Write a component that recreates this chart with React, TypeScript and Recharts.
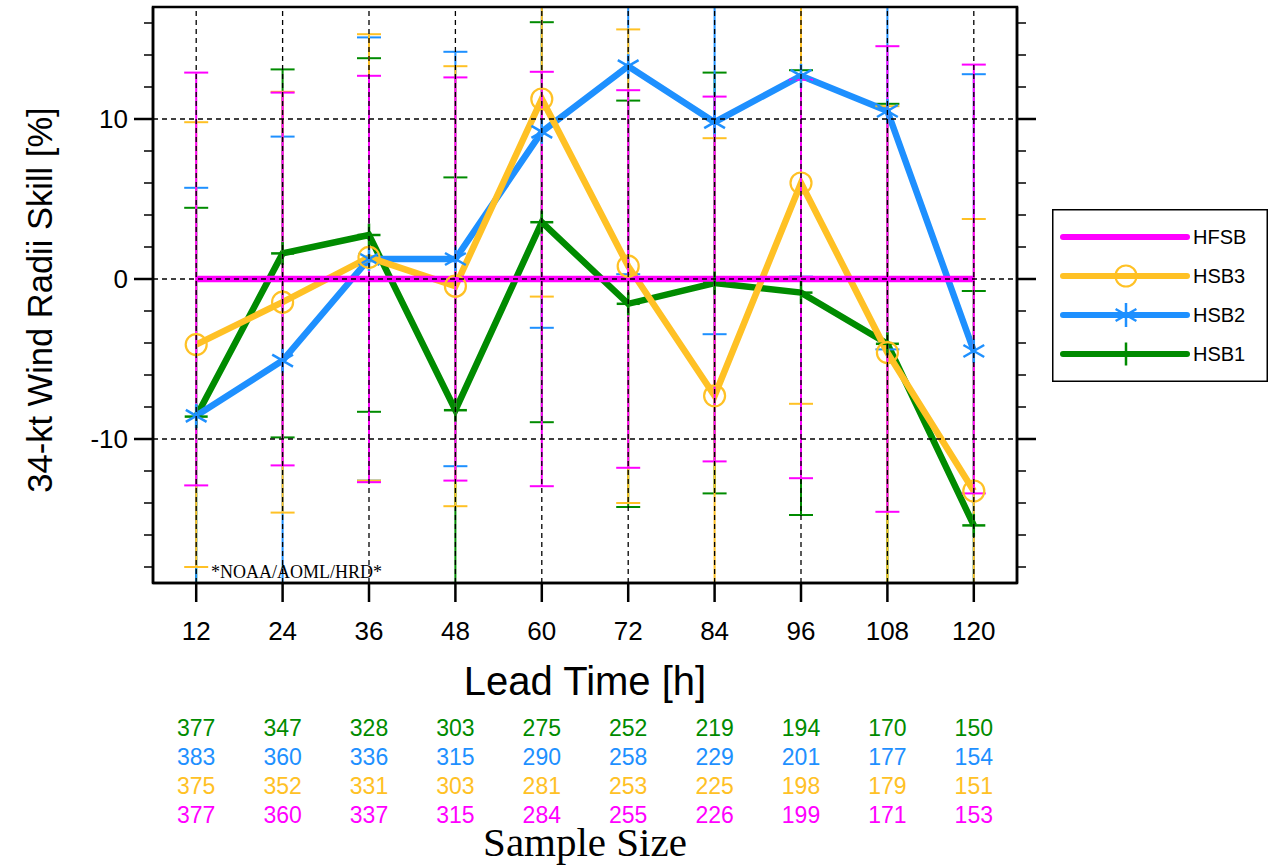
import React from 'react';
import { LineChart, Line, XAxis, YAxis, ErrorBar, ReferenceLine, Legend } from 'recharts';

// ---------- data ----------
const leadTimes = [12, 24, 36, 48, 60, 72, 84, 96, 108, 120];

const hfsbSkill = [0, 0, 0, 0, 0, 0, 0, 0, 0, 0];
const hfsbErr = [12.9, 11.65, 12.7, 12.6, 12.95, 11.8, 11.4, 12.45, 14.55, 13.4];

const hsb3Skill = [-4.1, -1.45, 1.35, -0.45, 11.25, 0.8, -7.3, 6.0, -4.6, -13.25];
const hsb3Err = [13.9, 13.15, 13.95, 13.75, 12.35, 14.8, 16.1, 13.8, 15.4, 17.0];

const hsb2Skill = [-8.55, -5.1, 1.25, 1.25, 9.2, 13.3, 9.8, 12.7, 10.5, -4.5];
const hsb2Err = [14.25, 14.0, 13.85, 12.95, 12.25, 13.0, 13.25, 12.55, 14.9, 17.3];

const hsb1Skill = [-8.6, 1.6, 2.75, -8.2, 3.55, -1.55, -0.25, -0.85, -4.05, -15.4];
const hsb1Err = [13.05, 11.5, 11.05, 14.55, 12.5, 12.7, 13.15, 13.9, 15.0, 14.65];

const hsb1Count = [377, 347, 328, 303, 275, 252, 219, 194, 170, 150];
const hsb2Count = [383, 360, 336, 315, 290, 258, 229, 201, 177, 154];
const hsb3Count = [375, 352, 331, 303, 281, 253, 225, 198, 179, 151];
const hfsbCount = [377, 360, 337, 315, 284, 255, 226, 199, 171, 153];

const yTicks = [-18, -16, -14, -12, -10, -8, -6, -4, -2, 0, 2, 4, 6, 8, 10, 12, 14, 16];
const yGridLines = [-10, 0, 10];
const xDomain = [6, 126];
const yDomain = [-19, 17];

// ---------- layout / style ----------
const W = 1279;
const H = 865;
const PLOT = { left: 153, top: 7, right: 1017, bottom: 583 };

const GREEN = '#008B00';
const BLUE = '#1E90FF';
const ORANGE = '#FFC125';
const MAGENTA = '#FF00FF';
const SANS = '"Liberation Sans", Arial, Helvetica, sans-serif';
const SERIF = '"Liberation Serif", "Times New Roman", serif';

const data = leadTimes.map((t, i) => ({
  lead: t,
  HSB1: hsb1Skill[i],
  HSB1_err: hsb1Err[i],
  HSB2: hsb2Skill[i],
  HSB2_err: hsb2Err[i],
  HSB3: hsb3Skill[i],
  HSB3_err: hsb3Err[i],
  HFSB: hfsbSkill[i],
  HFSB_err: hfsbErr[i],
}));

const sampleRows = [
  { counts: hsb1Count, color: GREEN },
  { counts: hsb2Count, color: BLUE },
  { counts: hsb3Count, color: ORANGE },
  { counts: hfsbCount, color: MAGENTA },
];

type MarkerKind = 'dot' | 'circle' | 'asterisk' | 'plus';

const legendItems: { name: string; color: string; marker: MarkerKind }[] = [
  { name: 'HFSB', color: MAGENTA, marker: 'dot' },
  { name: 'HSB3', color: ORANGE, marker: 'circle' },
  { name: 'HSB2', color: BLUE, marker: 'asterisk' },
  { name: 'HSB1', color: GREEN, marker: 'plus' },
];

function Marker({ kind, cx, cy, color }: { kind: MarkerKind; cx: number; cy: number; color: string }) {
  if (cx == null || cy == null || isNaN(cx) || isNaN(cy)) return <g />;
  if (kind === 'circle') {
    return <circle cx={cx} cy={cy} r={10.5} fill="none" stroke={color} strokeWidth={2.2} />;
  }
  if (kind === 'asterisk') {
    const r = 12;
    const dx = r * Math.cos(Math.PI / 6);
    const dy = r * Math.sin(Math.PI / 6);
    return (
      <g stroke={color} strokeWidth={2.5}>
        <line x1={cx} y1={cy - r} x2={cx} y2={cy + r} />
        <line x1={cx - dx} y1={cy - dy} x2={cx + dx} y2={cy + dy} />
        <line x1={cx - dx} y1={cy + dy} x2={cx + dx} y2={cy - dy} />
      </g>
    );
  }
  if (kind === 'plus') {
    const r = 11.5;
    return (
      <g stroke={color} strokeWidth={2.5}>
        <line x1={cx} y1={cy - r} x2={cx} y2={cy + r} />
        <line x1={cx - r} y1={cy} x2={cx + r} y2={cy} />
      </g>
    );
  }
  return <circle cx={cx} cy={cy} r={2} fill={color} />;
}

const makeDot = (kind: MarkerKind, color: string) => (p: any) => (
  <Marker key={`dot-${kind}-${p.index}`} kind={kind} cx={p.cx} cy={p.cy} color={color} />
);

// ---------- axes ----------
const XTick = (props: any) => {
  const { x, y, payload } = props;
  const i = leadTimes.indexOf(payload.value);
  return (
    <g>
      <line x1={x} x2={x} y1={y} y2={y + 19} stroke="#000" strokeWidth={2.5} />
      <text x={x} y={y + 57} textAnchor="middle" fontSize={26} fontFamily={SANS} fill="#000">
        {payload.value}
      </text>
      {sampleRows.map((r, k) => (
        <text
          key={k}
          x={x}
          y={y + 153 + 29 * k}
          textAnchor="middle"
          fontSize={23}
          fontFamily={SANS}
          fill={r.color}
        >
          {i >= 0 ? r.counts[i] : ''}
        </text>
      ))}
    </g>
  );
};

const YTickLeft = (props: any) => {
  const { x, y, payload } = props;
  const major = payload.value % 10 === 0;
  return (
    <g>
      <line x1={x - (major ? 19 : 9)} x2={x} y1={y} y2={y} stroke="#000" strokeWidth={major ? 2.5 : 1.5} />
      {major && (
        <text x={x - 25} y={y} dy="0.36em" textAnchor="end" fontSize={26} fontFamily={SANS} fill="#000">
          {payload.value}
        </text>
      )}
    </g>
  );
};

const YTickRight = (props: any) => {
  const { x, y, payload } = props;
  const major = payload.value % 10 === 0;
  return (
    <g>
      <line x1={x} x2={x + (major ? 19 : 9)} y1={y} y2={y} stroke="#000" strokeWidth={major ? 2.5 : 1.5} />
    </g>
  );
};

const XLabel = (props: any) => {
  const vb = props.viewBox || { x: 153, y: 583, width: 864, height: 60 };
  const cx = vb.x + vb.width / 2;
  const top = vb.y;
  return (
    <g>
      <text x={cx} y={top + 112} textAnchor="middle" fontSize={40} fontFamily={SANS} fill="#000">
        Lead Time [h]
      </text>
      <text x={cx} y={top + 273} textAnchor="middle" fontSize={41} fontFamily={SERIF} fill="#000">
        Sample Size
      </text>
    </g>
  );
};

const YLabel = (props: any) => {
  const vb = props.viewBox || { x: 53, y: 7, width: 100, height: 576 };
  const cx = vb.x - 13;
  const cy = vb.y + vb.height / 2 + 5;
  return (
    <text
      x={cx}
      y={cy}
      transform={`rotate(-90, ${cx}, ${cy})`}
      textAnchor="middle"
      dominantBaseline="central"
      fontSize={34.5}
      fontFamily={SANS}
      fill="#000"
    >
      34-kt Wind Radii Skill [%]
    </text>
  );
};

const LegendBox = () => (
  <svg width={216} height={173} style={{ display: 'block' }}>
    <rect x={0.75} y={0.75} width={214.5} height={171.5} fill="#fff" stroke="#000" strokeWidth={1.5} />
    {legendItems.map((it, k) => {
      const y = 28 + 39 * k;
      return (
        <g key={it.name}>
          <line x1={11} x2={135} y1={y} y2={y} stroke={it.color} strokeWidth={6} strokeLinecap="round" />
          <Marker kind={it.marker} cx={74} cy={y} color={it.color} />
          <text x={141} y={y} dy="0.36em" fontSize={20} fontFamily={SANS} fill="#000">
            {it.name}
          </text>
        </g>
      );
    })}
  </svg>
);

const plotMargin = { top: PLOT.top, left: PLOT.left, right: W - PLOT.right, bottom: H - PLOT.bottom };

export default function App() {
  return (
    <div style={{ position: 'absolute', left: 0, top: 0, width: W, height: H, background: '#fff' }}>
      {/* series layer, clipped to the plot frame */}
      <div
        style={{
          position: 'absolute',
          left: 0,
          top: 0,
          width: W,
          height: H,
          clipPath: `inset(${PLOT.top}px ${W - PLOT.right}px ${H - PLOT.bottom}px ${PLOT.left}px)`,
        }}
      >
        <LineChart width={W} height={H} data={data} margin={plotMargin}>
          <XAxis hide dataKey="lead" type="number" domain={xDomain} allowDataOverflow />
          <YAxis hide type="number" domain={yDomain} allowDataOverflow />

          <Line dataKey="HSB1" stroke={GREEN} strokeWidth={6.5} isAnimationActive={false} dot={makeDot('plus', GREEN)} activeDot={false}>
            <ErrorBar dataKey="HSB1_err" stroke={GREEN} strokeWidth={2} width={12} direction="y" isAnimationActive={false} />
          </Line>
          <Line dataKey="HSB2" stroke={BLUE} strokeWidth={6.5} isAnimationActive={false} dot={makeDot('asterisk', BLUE)} activeDot={false}>
            <ErrorBar dataKey="HSB2_err" stroke={BLUE} strokeWidth={2} width={12} direction="y" isAnimationActive={false} />
          </Line>
          <Line dataKey="HSB3" stroke={ORANGE} strokeWidth={6.5} isAnimationActive={false} dot={makeDot('circle', ORANGE)} activeDot={false}>
            <ErrorBar dataKey="HSB3_err" stroke={ORANGE} strokeWidth={2} width={12} direction="y" isAnimationActive={false} />
          </Line>
          <Line dataKey="HFSB" stroke={MAGENTA} strokeWidth={6.5} isAnimationActive={false} dot={false} activeDot={false}>
            <ErrorBar dataKey="HFSB_err" stroke={MAGENTA} strokeWidth={2} width={12} direction="y" isAnimationActive={false} />
          </Line>

          {leadTimes.map((t) => (
            <ReferenceLine key={`vx-${t}`} x={t} stroke="#000" strokeWidth={1.3} strokeDasharray="5 4" zIndex={1000} />
          ))}
          {yGridLines.map((v) => (
            <ReferenceLine key={`hy-${v}`} y={v} stroke="#000" strokeWidth={1.3} strokeDasharray="5 4" zIndex={1000} />
          ))}
        </LineChart>
      </div>

      {/* axes, labels, legend */}
      <div style={{ position: 'absolute', left: 0, top: 0, width: W, height: H }}>
        <LineChart
          width={W}
          height={H}
          data={data}
          margin={{ top: PLOT.top, left: PLOT.left - 100, right: W - PLOT.right - 30, bottom: H - PLOT.bottom - 60 }}
        >
          <XAxis
            dataKey="lead"
            type="number"
            domain={xDomain}
            ticks={leadTimes}
            interval={0}
            allowDataOverflow
            height={60}
            tickSize={0}
            tickMargin={0}
            tickLine={false}
            tick={<XTick />}
            axisLine={{ stroke: '#000', strokeWidth: 2.5 }}
            label={XLabel}
          />
          <YAxis
            type="number"
            domain={yDomain}
            ticks={yTicks}
            interval={0}
            allowDataOverflow
            width={100}
            tickSize={0}
            tickMargin={0}
            tickLine={false}
            tick={<YTickLeft />}
            axisLine={{ stroke: '#000', strokeWidth: 2.5 }}
            label={YLabel}
          />
          <YAxis
            yAxisId="right"
            orientation="right"
            type="number"
            domain={yDomain}
            ticks={yTicks}
            interval={0}
            allowDataOverflow
            width={30}
            tickSize={0}
            tickMargin={0}
            tickLine={false}
            tick={<YTickRight />}
            axisLine={{ stroke: '#000', strokeWidth: 2.5 }}
          />
          <Legend
            content={LegendBox}
            layout="vertical"
            align="center"
            verticalAlign="middle"
            wrapperStyle={{ left: 1052, top: 209, width: 216, height: 173 }}
          />
        </LineChart>
      </div>

      {/* plot frame and credit text */}
      <svg width={W} height={H} style={{ position: 'absolute', left: 0, top: 0, pointerEvents: 'none' }}>
        <rect
          x={PLOT.left}
          y={PLOT.top}
          width={PLOT.right - PLOT.left}
          height={PLOT.bottom - PLOT.top}
          fill="none"
          stroke="#000"
          strokeWidth={2.5}
        />
        <text x={211} y={578} fontSize={18} fontFamily={SERIF} fill="#000">
          *NOAA/AOML/HRD*
        </text>
      </svg>
    </div>
  );
}
